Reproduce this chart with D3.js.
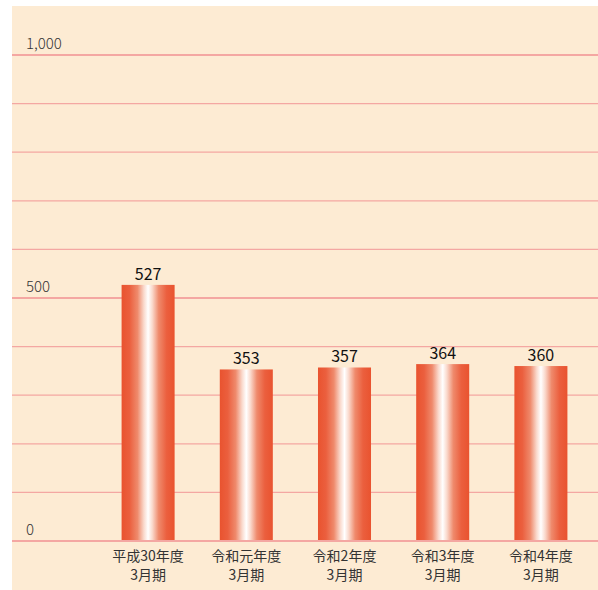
<!DOCTYPE html>
<html>
<head>
<meta charset="utf-8">
<script src="https://cdn.jsdelivr.net/npm/d3@7"></script>
<style>
  body { margin: 0; background: #fff; }
  svg text { font-family: "Noto Sans CJK JP", "Noto Sans", sans-serif; }
</style>
</head>
<body>
<div id="chart"></div>
<script>
// data
const categories = ["平成30年度", "令和元年度", "令和2年度", "令和3年度", "令和4年度"];
const subLabels = ["3月期", "3月期", "3月期", "3月期", "3月期"];
const values = [527, 353, 357, 364, 360];
const yTicks = [0, 500, 1000];
const gridTicks = d3.range(0, 1001, 100);

const width = 598, height = 590;

const svg = d3.select("#chart")
  .append("svg")
  .attr("width", width)
  .attr("height", height);

// panel background
svg.append("rect")
  .attr("x", 12).attr("y", 6)
  .attr("width", width - 12).attr("height", 584)
  .attr("fill", "#fdebd3");

// horizontal gradient for the bars
const grad = svg.append("defs").append("linearGradient")
  .attr("id", "barGrad")
  .attr("x1", "0%").attr("x2", "100%").attr("y1", "0%").attr("y2", "0%");
[[0, "#e9532f"], [0.15, "#eb5f3e"], [0.3, "#ef8a6c"], [0.42, "#fad9cc"], [0.5, "#ffffff"],
 [0.58, "#fad9cc"], [0.7, "#ef8a6c"], [0.85, "#eb5f3e"], [1, "#e9532f"]].forEach(s => {
  grad.append("stop").attr("offset", s[0]).attr("stop-color", s[1]);
});

const x = d3.scaleBand()
  .domain(categories)
  .range([99, 590])
  .paddingInner(0.46)
  .paddingOuter(0.23);

const y = d3.scaleLinear()
  .domain([0, 1000])
  .range([541, 55]);

// grid lines
svg.append("g")
  .selectAll("line")
  .data(gridTicks)
  .join("line")
  .attr("x1", 12).attr("x2", width)
  .attr("y1", d => y(d)).attr("y2", d => y(d))
  .attr("stroke", "#f4a7a2")
  .attr("stroke-width", d => d % 500 === 0 ? 2 : 1.2);

// y labels
svg.append("g")
  .selectAll("text")
  .data(yTicks)
  .join("text")
  .attr("x", 26)
  .attr("y", d => y(d) - 6)
  .attr("font-size", 15)
  .attr("font-weight", 300)
  .attr("fill", "#333")
  .text(d => d3.format(",")(d));

// bars
svg.append("g")
  .selectAll("rect")
  .data(values)
  .join("rect")
  .attr("x", (d, i) => x(categories[i]))
  .attr("y", d => y(d))
  .attr("width", x.bandwidth())
  .attr("height", d => y(0) - y(d))
  .attr("fill", "url(#barGrad)");

// redraw base line over bars
svg.append("line")
  .attr("x1", 12).attr("x2", width)
  .attr("y1", y(0)).attr("y2", y(0))
  .attr("stroke", "#f4a7a2")
  .attr("stroke-width", 2);

// value labels
svg.append("g")
  .selectAll("text")
  .data(values)
  .join("text")
  .attr("x", (d, i) => x(categories[i]) + x.bandwidth() / 2)
  .attr("y", d => y(d) - 5)
  .attr("text-anchor", "middle")
  .attr("font-size", 16)
  .attr("font-weight", 400)
  .attr("fill", "#111")
  .text(d => d);

// category labels
const cat = svg.append("g")
  .selectAll("text")
  .data(categories)
  .join("text")
  .attr("text-anchor", "middle")
  .attr("font-size", 14)
  .attr("fill", "#333");
cat.append("tspan")
  .attr("x", d => x(d) + x.bandwidth() / 2)
  .attr("y", 561)
  .text(d => d);
cat.append("tspan")
  .attr("x", d => x(d) + x.bandwidth() / 2)
  .attr("y", 580)
  .text((d, i) => subLabels[i]);
</script>
</body>
</html>
